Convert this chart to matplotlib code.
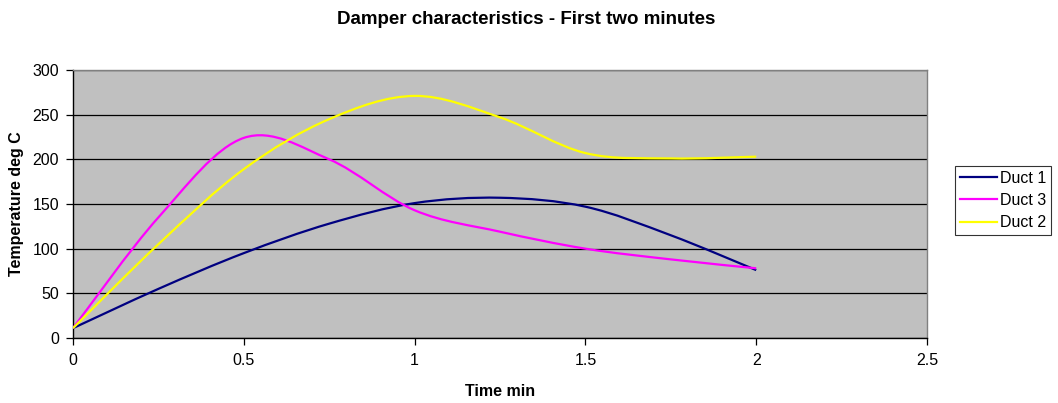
import numpy as np
import matplotlib.pyplot as plt
from matplotlib.path import Path
from matplotlib.patches import PathPatch
from matplotlib.lines import Line2D

plt.rcParams['font.family'] = ['Liberation Sans', 'DejaVu Sans']

time_min = [0, 0.25, 0.5, 0.75, 1.0, 1.25, 1.5, 1.75, 2.0]
duct_1 = [11, 55, 95, 128, 151, 157, 147, 115, 76]
duct_3 = [11, 135, 224, 200, 143, 119, 100, 88, 78]
duct_2 = [11, 105, 189, 245, 271, 247, 207, 201, 203]

series_names = ['Duct 1', 'Duct 3', 'Duct 2']
series_vals = [duct_1, duct_3, duct_2]
series_cols = ['#000080', '#FF00FF', '#FFFF00']


def smooth_path(x, y):
    # Excel style smoothed line: cubic bezier through every point
    pts = np.column_stack([x, y]).astype(float)
    n = len(pts)
    verts = [pts[0]]
    codes = [Path.MOVETO]
    for i in range(n - 1):
        p0 = pts[i - 1] if i > 0 else pts[i]
        p1 = pts[i]
        p2 = pts[i + 1]
        p3 = pts[i + 2] if i + 2 < n else pts[i + 1]
        c1 = p1 + (p2 - p0) / 6.0
        c2 = p2 - (p3 - p1) / 6.0
        verts += [c1, c2, p2]
        codes += [Path.CURVE4] * 3
    return Path(verts, codes)


fig = plt.figure(figsize=(10.58, 4.03), dpi=100)
ax = fig.add_axes([73 / 1058, 1 - 338 / 403, (927 - 73) / 1058, (338 - 70) / 403])
ax.set_facecolor('#C0C0C0')

for name, vals, col in zip(series_names, series_vals, series_cols):
    patch = PathPatch(smooth_path(time_min, vals), facecolor='none', edgecolor=col,
                      lw=1.6, transform=ax.transData, zorder=3, capstyle='butt')
    ax.add_patch(patch)

ax.set_xlim(0, 2.5)
ax.set_ylim(0, 300)
ax.set_xticks([0, 0.5, 1, 1.5, 2, 2.5])
ax.set_xticklabels(['0', '0.5', '1', '1.5', '2', '2.5'])
ax.set_yticks(range(0, 301, 50))
ax.grid(axis='y', color='black', lw=0.9, zorder=1)
ax.set_axisbelow(True)
ax.tick_params(direction='out', length=5, width=0.9, labelsize=11.5, pad=5)
ax.tick_params(axis='x', pad=6)

ax.spines['left'].set_color('black')
ax.spines['bottom'].set_color('black')
ax.spines['top'].set_color('#808080')
ax.spines['right'].set_color('#808080')
for s in ax.spines.values():
    s.set_linewidth(1.0)

ax.set_xlabel('Time min', fontsize=11.5, fontweight='bold')
ax.set_ylabel('Temperature deg C', fontsize=11.5, fontweight='bold')
ax.xaxis.set_label_coords(0.5, -0.172)
ax.yaxis.set_label_coords(-0.057, 0.5)

fig.text(526 / 1058, 1 - 19 / 403, 'Damper characteristics - First two minutes',
         ha='center', va='center', fontsize=13.5, fontweight='bold')

handles = [Line2D([], [], color=c, lw=1.6) for c in series_cols]
leg = fig.legend(handles, series_names, loc='upper left',
                 bbox_to_anchor=(955 / 1058, 1 - 166 / 403), frameon=True,
                 fancybox=False, edgecolor='black', fontsize=11.5,
                 handlelength=2.3, handletextpad=0.2, borderpad=0.3,
                 labelspacing=0.45, borderaxespad=0)
leg.get_frame().set_linewidth(0.8)

fig.savefig('out.png', dpi=100)
